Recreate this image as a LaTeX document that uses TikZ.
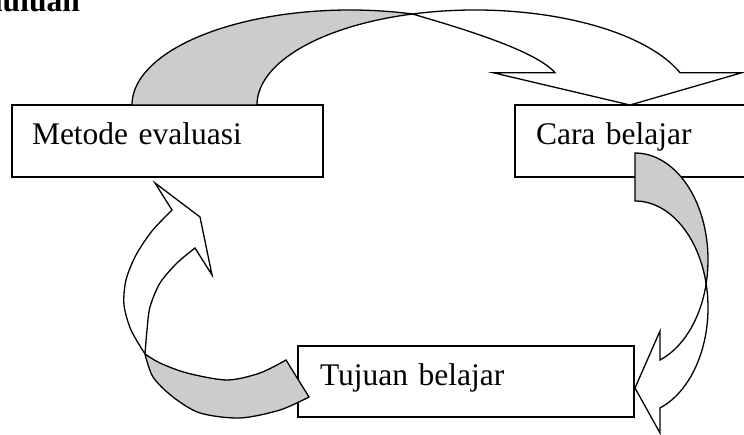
\documentclass[tikz,border=0pt]{standalone}
\usepackage{fontspec}
\setmainfont{Liberation Serif}
\definecolor{bandgray}{RGB}{204,204,204}
\tikzset{
  box/.style={draw, line width=1.3pt, anchor=north west, outer sep=0pt,
    inner ysep=0pt, text height=40pt, text depth=32pt, align=left,
    fill=white, font=\fontsize{31.5}{36}\selectfont},
  back/.style={draw, line width=1.3pt, fill=bandgray, line join=miter},
  front/.style={draw, line width=1.3pt, fill=white, line join=miter},
}
\begin{document}
\begin{tikzpicture}[x=1pt,y=1pt]
  \useasboundingbox (0,0) rectangle (744,-435);
  \fill[white] (0,0) rectangle (744,-435);
  \clip (0,0) rectangle (744,-435);

  % heading, cut by the top edge
  \node[anchor=base east, inner sep=0pt,
        font=\fontsize{31.5}{36}\selectfont\bfseries] (title) at (80,-11.5) {Pendahuluan};

  % the three boxes
  \node[box, inner xsep=20pt, text width=271pt] (metode) at (12,-105) {Metode evaluasi};
  \node[box, inner xsep=21pt, text width=203pt] (cara) at (515,-105) {Cara belajar};
  \node[box, inner xsep=22pt, text width=292pt, text height=39pt] (tujuan) at (298,-346) {Tujuan belajar};

  % curved arrow: Metode evaluasi -> Cara belajar
  \filldraw[back] (132,-105)
    arc[start angle=180, end angle=73.34, x radius=218, y radius=95]
    arc[start angle=106.66, end angle=180, x radius=218, y radius=95] -- cycle;
  \filldraw[front] (412.5,-14)
    arc[start angle=106.66, end angle=19.88, x radius=218, y radius=95]
    -- (742,-72.7) -- (630,-105) -- (493,-72.7) -- (555,-72.7)
    .. controls (535,-50) and (460,-28) .. (412.5,-14) -- cycle;

  % curved arrow: Cara belajar -> Tujuan belajar
  \filldraw[back] (635,-153)
    arc[start angle=90, end angle=-13, x radius=73, y radius=106.7]
    arc[start angle=13, end angle=90, x radius=73, y radius=106.7] -- cycle;
  \filldraw[front] (706.13,-283.7)
    arc[start angle=13, end angle=-70, x radius=73, y radius=106.7]
    -- (660,-433) -- (635,-388) -- (660,-331) -- (660,-360)
    arc[start angle=-70, end angle=-13, x radius=73, y radius=106.7] -- cycle;

  % curved arrow: Tujuan belajar -> Metode evaluasi
  \filldraw[back]
    plot[smooth] coordinates {(286,-360) (260,-373) (227,-380) (187,-373) (160,-363) (145,-354)}
    -- plot[smooth] coordinates {(145,-354) (153,-377) (173,-397) (200,-413) (240,-418) (280,-410) (309,-397)}
    -- cycle;
  \filldraw[front]
    plot[smooth] coordinates {(145,-354) (131,-330) (124,-305) (126,-280) (136,-255) (152,-231) (172,-210)}
    -- (155,-183) -- (200,-217) -- (212,-275) -- (195,-248)
    -- plot[smooth] coordinates {(195,-248) (177,-263) (160,-283) (150,-307) (147,-330) (145,-354)}
    -- cycle;
\end{tikzpicture}
\end{document}
